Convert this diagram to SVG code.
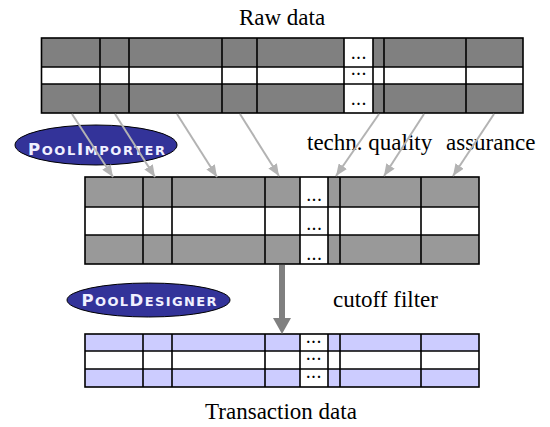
<svg xmlns="http://www.w3.org/2000/svg" width="550" height="427" viewBox="0 0 550 427">
<style>
.lbl{font-family:"Liberation Serif","Times New Roman",serif;font-size:23px;fill:#000}
.dots{font-family:"Liberation Serif","Times New Roman",serif;font-size:14px;font-weight:bold;letter-spacing:1.8px;fill:#000;text-anchor:middle}
.grid{stroke:#000;stroke-width:1.6;fill:none}
.ell{fill:#333399;stroke:#000;stroke-width:1}
.etxt{font-family:"DejaVu Sans",Verdana,sans-serif;font-weight:bold;font-size:16.5px;fill:#f0f0ff;text-anchor:middle}
.sc{font-size:13px}
.thin{stroke:#b3b3b3;stroke-width:2;fill:none}
</style>
<defs>
<marker id="ah" viewBox="0 0 12 10" refX="12" refY="5" markerWidth="12" markerHeight="10" markerUnits="userSpaceOnUse" orient="auto">
<path d="M0,0 L12,5 L0,10 Z" fill="#b3b3b3"/>
</marker>
</defs>
<rect width="550" height="427" fill="#fff"/>

<g id="raw-data-title"><text class="lbl" x="282" y="25" text-anchor="middle">Raw data</text></g>

<g id="raw-data-table">
<rect x="41.5" y="38" width="481.5" height="29" fill="#808080"/>
<rect x="41.5" y="67" width="481.5" height="17" fill="#fff"/>
<rect x="41.5" y="84" width="481.5" height="29" fill="#808080"/>
<rect x="344" y="38" width="29" height="75" fill="#fff"/>
<rect x="41.5" y="38" width="481.5" height="75" class="grid" stroke-width="2"/>
<path class="grid" stroke-width="2" d="M41.5,67H523M41.5,84H523M100,38V113M129,38V113M222,38V113M257,38V113M344,38V113M373,38V113M384,38V113M466,38V113"/>
<text class="dots" x="359.5" y="58.5">...</text>
<text class="dots" x="359.5" y="75">...</text>
<text class="dots" x="359.5" y="104.5">...</text>
</g>

<g id="pool-importer">
<ellipse class="ell" cx="96" cy="145" rx="81" ry="20"/>
<text class="etxt" x="96.5" y="154.5" textLength="137" lengthAdjust="spacing">P<tspan class="sc">OOL</tspan>I<tspan class="sc">MPORTER</tspan></text>
</g>

<g id="tqa-label"><text class="lbl" x="307" y="150">techn. quality</text><text class="lbl" x="446" y="150">assurance</text></g>

<g id="intermediate-table">
<rect x="85" y="177" width="394" height="30" fill="#999999"/>
<rect x="85" y="207" width="394" height="28" fill="#fff"/>
<rect x="85" y="235" width="394" height="29" fill="#999999"/>
<rect x="300" y="177" width="28" height="87" fill="#fff"/>
<rect x="85" y="177" width="394" height="87" class="grid"/>
<path class="grid" d="M85,207H479M85,235H479M143,177V264M172,177V264M265,177V264M300,177V264M328,177V264M340,177V264M421,177V264"/>
<text class="dots" x="315" y="200.5">...</text>
<text class="dots" x="315" y="230">...</text>
<text class="dots" x="315" y="259.5">...</text>
</g>

<g id="pool-designer">
<ellipse class="ell" cx="148.5" cy="300" rx="81.5" ry="17"/>
<text class="etxt" x="149" y="305.5" textLength="135" lengthAdjust="spacing">P<tspan class="sc">OOL</tspan>D<tspan class="sc">ESIGNER</tspan></text>
</g>

<g id="cutoff-label"><text class="lbl" x="333" y="307">cutoff filter</text></g>

<g id="transaction-table">
<rect x="85" y="334" width="394" height="17" fill="#ccccff"/>
<rect x="85" y="351" width="394" height="18" fill="#fff"/>
<rect x="85" y="369" width="394" height="18" fill="#ccccff"/>
<rect x="300" y="334" width="28" height="53" fill="#fff"/>
<rect x="85" y="334" width="394" height="53" class="grid"/>
<path class="grid" d="M85,351H479M85,369H479M143,334V387M172,334V387M265,334V387M300,334V387M328,334V387M340,334V387M421,334V387"/>
<text class="dots" x="314.5" y="343">...</text>
<text class="dots" x="314.5" y="359.5">...</text>
<text class="dots" x="314.5" y="378">...</text>
</g>

<g id="transaction-title"><text class="lbl" x="281" y="419" text-anchor="middle">Transaction data</text></g>

<g id="connectors">
<line class="thin" x1="72" y1="114" x2="113" y2="177" marker-end="url(#ah)"/>
<line class="thin" x1="115" y1="114" x2="155" y2="177" marker-end="url(#ah)"/>
<line class="thin" x1="177" y1="114" x2="217" y2="177" marker-end="url(#ah)"/>
<line class="thin" x1="240" y1="114" x2="279" y2="176" marker-end="url(#ah)"/>
<line class="thin" x1="379" y1="114" x2="336" y2="176" marker-end="url(#ah)"/>
<line class="thin" x1="424" y1="114" x2="384" y2="176" marker-end="url(#ah)"/>
<line class="thin" x1="494" y1="114" x2="453" y2="176" marker-end="url(#ah)"/>
<line x1="282" y1="265" x2="282" y2="319" stroke="#808080" stroke-width="6"/>
<path d="M273,318 L291,318 L282,334 Z" fill="#808080"/>
</g>
</svg>
